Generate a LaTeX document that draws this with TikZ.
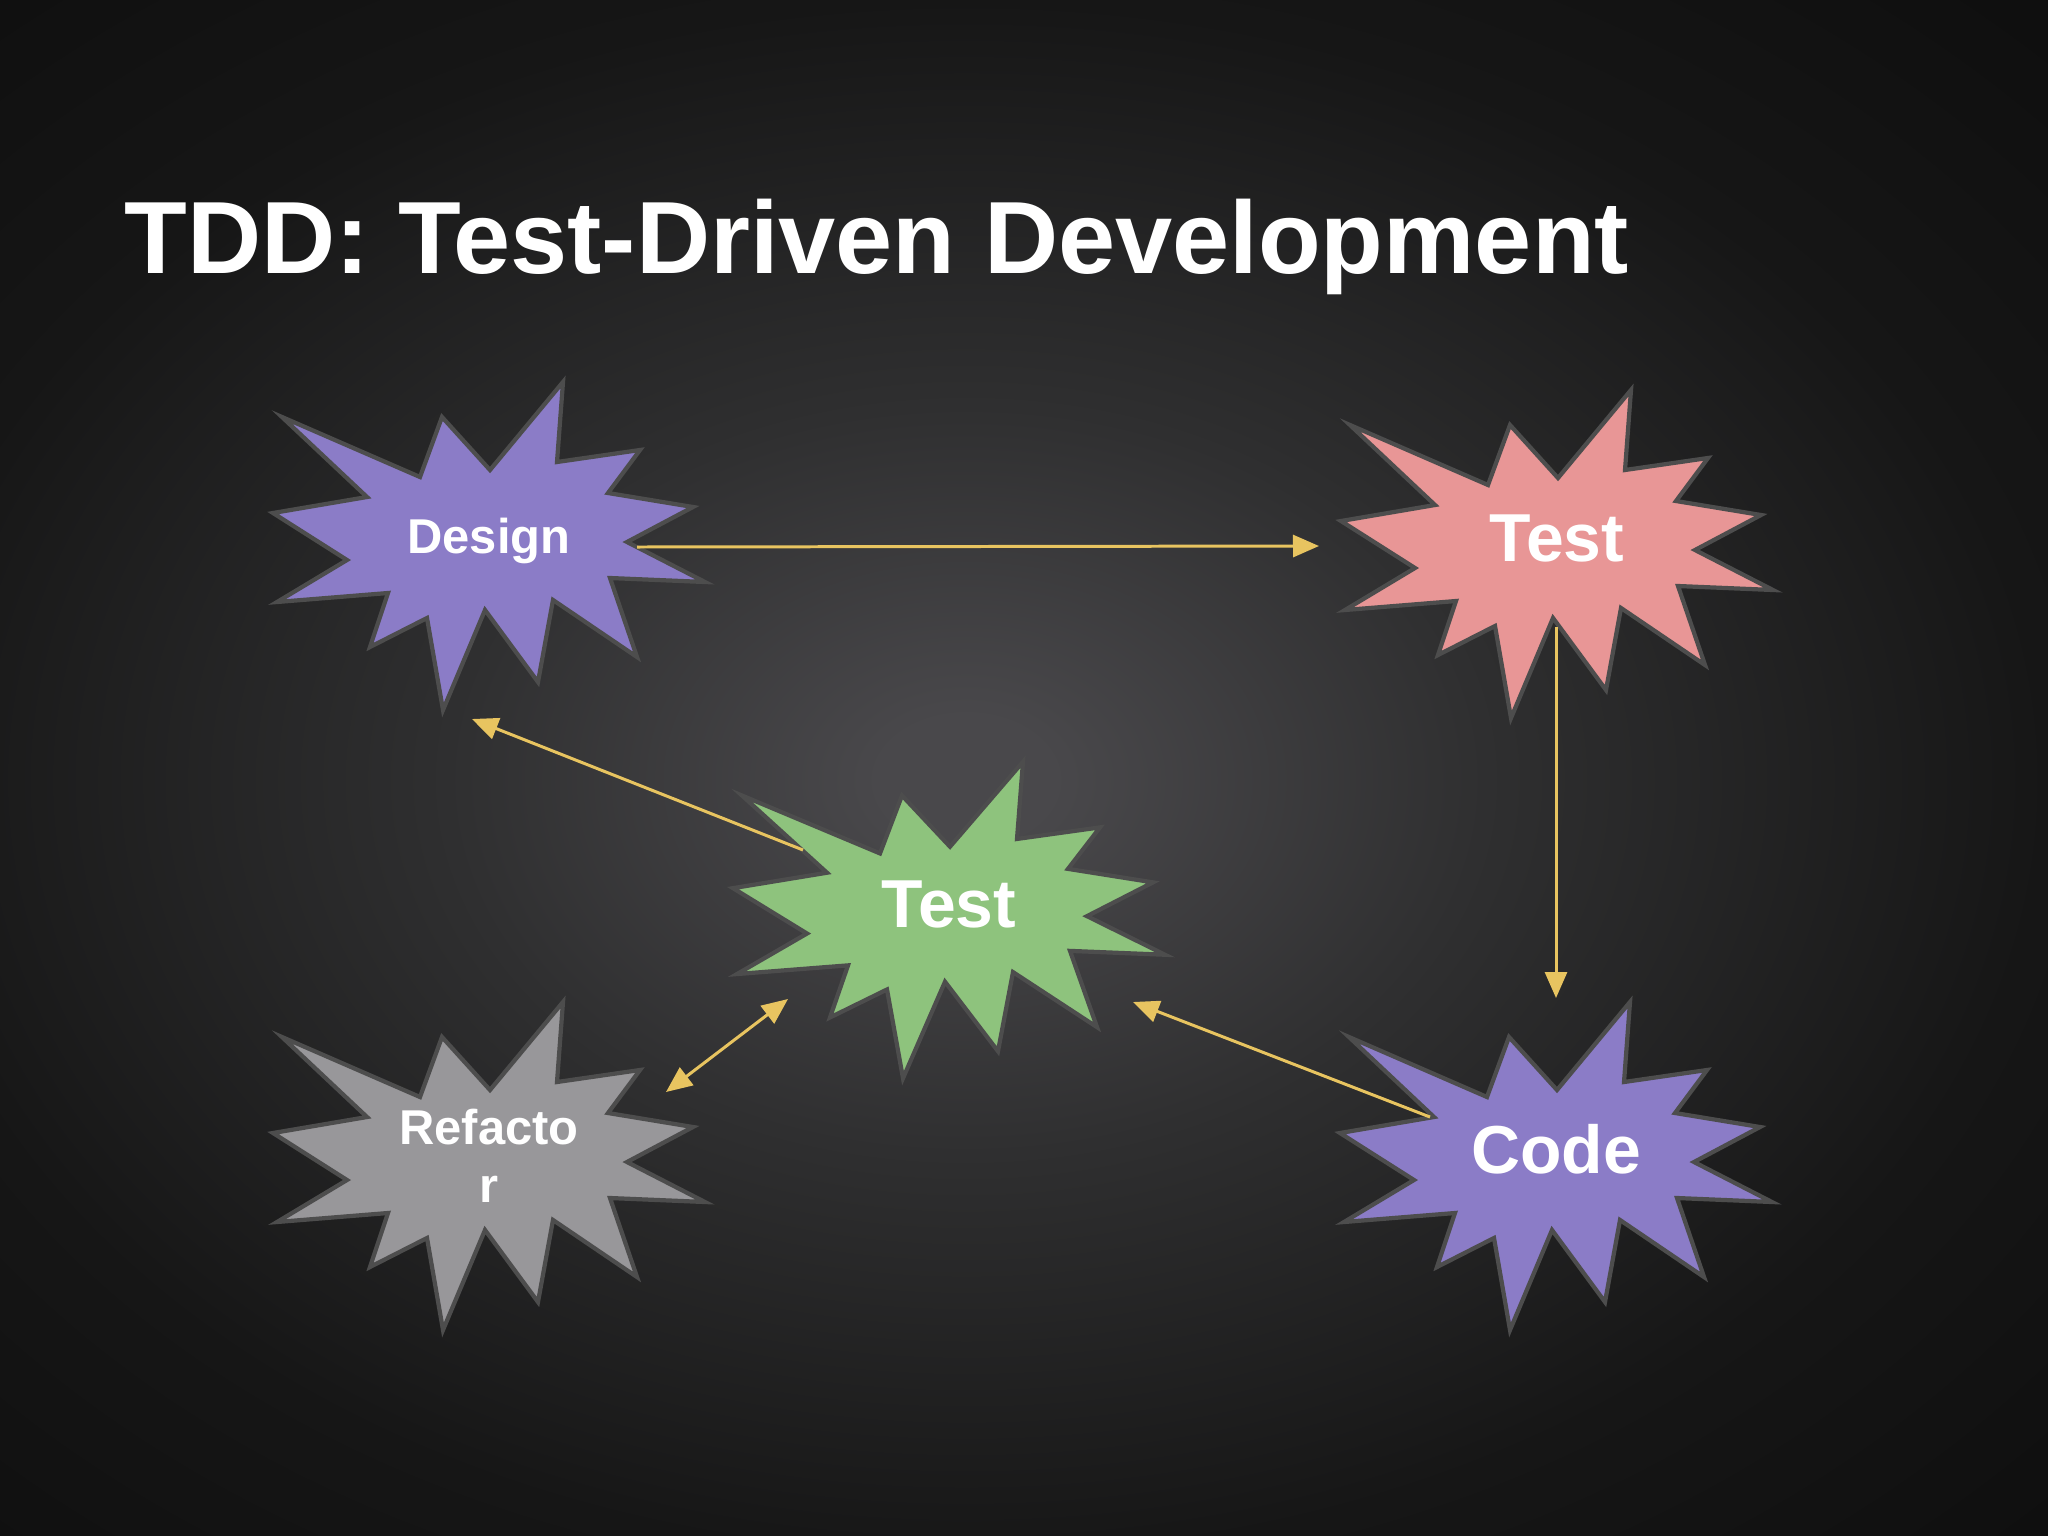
\documentclass[tikz,border=0pt]{standalone}
\usepackage{fontspec}
\setmainfont{Liberation Sans}
\usetikzlibrary{arrows.meta,calc}

\definecolor{bgin}{HTML}{49484B}
\definecolor{bgmid}{HTML}{2F2F30}
\definecolor{bgedge}{HTML}{161616}
\definecolor{bgout}{HTML}{0E0E0E}
\definecolor{boompurple}{HTML}{8B7CC7}
\definecolor{boompink}{HTML}{E89696}
\definecolor{boomgreen}{HTML}{8EC37D}
\definecolor{boomgray}{HTML}{98979A}
\definecolor{boomedge}{HTML}{4D4D4D}
\definecolor{flowyellow}{HTML}{E8C460}

\pgfdeclareradialshading{slidebg}{\pgfpoint{0bp}{0bp}}{color(0bp)=(bgin); color(2bp)=(bgin); color(12bp)=(bgmid); color(25bp)=(bgedge); color(36bp)=(bgout)}

\tikzset{
  pics/burst/.style={code={
    \filldraw[draw=boomedge, line width=1.2pt, fill=#1]
      (-207,-129) -- (-69,-69) -- (-47,-129) -- (1,-76) -- (74,-164) -- (68,-84)
      -- (151,-96) -- (119,-53) -- (204,-39) -- (138,-4) -- (216,36) -- (121,32)
      -- (148,111) -- (64,54) -- (49,136) -- (-4,64) -- (-46,164) -- (-62,72)
      -- (-119,101) -- (-101,47) -- (-212,56) -- (-142,14) -- (-216,-33) -- (-122,-49) -- cycle;
  }},
  flow/.style={draw=flowyellow, line width=0.85pt, ->},
  >={Triangle[length=0.26cm,width=0.22cm]},
  smalltag/.style={font=\bfseries\fontsize{13.9}{16.5}\selectfont},
  bigtag/.style={font=\bfseries\fontsize{19.3}{23}\selectfont},
}

\begin{document}
\begin{tikzpicture}[x=0.01cm, y=-0.01cm]

  \useasboundingbox (0,0) rectangle (2048,1536);
  \begin{scope}
    \clip (0,0) rectangle (2048,1536);
    \fill[bgout] (0,0) rectangle (2048,1536);
    \shade[shading=slidebg] (-116,0) rectangle (2048,1560);
  \end{scope}

  \node[anchor=base west, text=white, inner sep=0,
        font=\bfseries\fontsize{29.2}{35}\selectfont] (title) at (124,273) {TDD: Test-Driven Development};

  % bursts
  \pic at (489,546) {burst=boompurple};
  \pic at (1557,554) {burst=boompink};
  \pic[yscale=0.965] at (949,920) {burst=boomgreen};
  \pic at (489,1166) {burst=boomgray};
  \pic at (1556,1166) {burst=boompurple};

  \begin{scope}[every node/.style={text=white, inner sep=0, text height=.14cm, text depth=0cm}]
    \node[smalltag] (design) at (489,546) {Design};
    \node[bigtag] (test) at (1557,554) {Test};
    \node[bigtag] (retest) at (949,920) {Test};
    \node[smalltag, align=center, text height=.72cm] (refactor) at (489,1166) {Refacto\\r};
    \node[bigtag] (code) at (1556,1166) {Code};
  \end{scope}

  % arrows
  \path[flow] ($(design)+(148,1)$) -- ($(test)+(-238,-8)$);
  \path[flow] ($(test)+(-1,73)$) -- ($(code)+(0,-168)$);
  \path[flow] ($(code)+(-126,-49)$) -- ($(retest)+(184,82)$);
  \path[flow] ($(retest)+(-146,-70)$) -- ($(design)+(-17,173)$);
  \path[flow, <->] ($(refactor)+(177,-74)$) -- ($(retest)+(-161,79)$);

\end{tikzpicture}
\end{document}
